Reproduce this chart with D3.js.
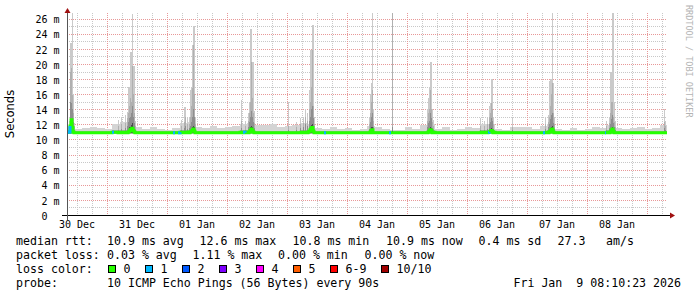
<!DOCTYPE html>
<html>
<head>
<meta charset="utf-8">
<script src="https://d3js.org/d3.v7.min.js"></script>
<style>
body{margin:0;background:#fff}
svg text{font-family:"DejaVu Sans Mono",monospace;white-space:pre}
</style>
</head>
<body>
<script>
// 10 days over 600 px -> one column = 1440 s = 0.4 h, hours counted from graph start
var start = new Date(2025, 11, 30, 8, 10, 23);
var end = new Date(2026, 0, 9, 8, 10, 23);
var colH = 0.4;
var binH = 3;

// background smoke, 3 h bins: top of outer smoke and median (ms)
var baseHi = [11.6,11.4,11.5,11.6,11.5,11.4,12.0,12.3,12.5,11.6,
              11.4,11.7,11.4,11.3,11.5,12.2,12.3,11.6,11.5,11.8,
              11.5,11.7,11.8,12.0,12.2,11.9,11.9,12.1,11.7,11.8,
              11.9,12.2,12.0,11.5,11.4,11.7,11.4,11.5,11.3,11.4,
              11.8,11.6,11.4,11.3,11.3,11.6,11.4,11.9,12.1,11.4,
              11.7,11.3,11.4,11.6,11.5,12.0,12.1,11.4,11.3,11.6,
              11.7,11.6,11.4,11.8,12.0,11.4,11.3,11.5,11.3,11.4,
              11.6,11.5,11.9,11.5,11.4,11.5,11.6,11.4,11.5,11.9];
var baseMed = [10.95,10.9,10.9,10.9,10.9,10.9,10.95,10.95,11.0,10.9,
               10.9,10.9,10.9,10.9,10.9,10.95,11.0,10.9,10.9,10.9,
               10.9,10.9,10.9,10.95,11.0,10.9,10.9,10.9,10.9,10.9,
               10.9,10.95,11.0,10.9,10.9,10.9,10.9,10.9,10.9,10.9,
               10.9,10.9,10.9,10.9,10.9,10.9,10.9,10.9,10.95,10.9,
               10.9,10.9,10.9,10.9,10.9,10.95,10.95,10.9,10.9,10.9,
               10.9,10.9,10.9,10.9,10.95,10.9,10.9,10.9,10.9,10.9,
               10.9,10.9,10.95,10.9,10.9,10.9,10.9,10.9,10.9,10.9];

// single columns with bursts: hour, max ping, 9th, 8th, 7th ping, median (ms)
var spikeHour = [0.8,1.2,1.6,2.0,2.4,2.8,
                 20.4,21.6,23.2,24.0,24.4,24.8,25.2,25.6,26.0,26.4,26.8,27.2,
                 45.6,46.8,47.2,48.0,48.8,49.2,49.6,50.0,50.4,50.8,51.2,
                 69.6,71.2,72.4,72.8,73.2,73.6,74.0,74.4,74.8,
                 88.4,91.6,93.2,94.4,95.2,96.0,96.8,97.2,97.6,98.0,98.4,98.8,
                 120.8,121.2,121.6,122.0,122.4,130.0,
                 144.0,144.4,144.8,145.2,145.6,146.0,146.4,
                 165.2,166.8,168.0,168.8,169.2,169.6,170.0,170.4,178.0,
                 191.2,192.4,192.8,193.2,193.6,194.0,194.4,194.8,
                 215.6,216.8,217.2,217.6,218.0,218.4,218.8,219.2,
                 238.8,239.2];
var spikeMax = [12.4,22.8,22.8,26.7,16.0,12.2,
                12.6,12.9,13.2,13.7,17.0,17.0,21.6,21.6,26.6,19.7,19.7,12.5,
                12.6,14.3,14.3,13.0,12.8,16.5,16.8,22.5,25.0,25.0,13.0,
                15.2,12.5,13.5,15.0,24.6,24.6,20.2,20.2,13.8,
                15.0,12.3,12.8,13.0,14.0,13.5,16.5,21.8,21.8,25.2,25.2,13.0,
                13.0,16.0,17.5,26.7,14.0,26.7,
                14.0,15.5,17.0,20.2,20.2,14.0,12.6,
                12.8,12.5,12.8,14.5,14.8,18.0,18.0,13.0,13.0,
                13.0,13.2,17.8,18.0,18.0,26.7,17.5,13.0,
                12.5,13.0,19.0,19.0,26.7,26.7,15.0,12.5,
                14.0,12.5];
var spikeP9 = [11.9,19.0,19.5,15.9,13.5,11.6,
               11.8,12.0,12.2,12.8,13.5,14.5,15.5,15.0,19.7,16.0,13.5,11.8,
               11.8,12.3,13.0,12.0,12.0,13.0,14.5,16.8,22.5,16.0,12.0,
               12.5,11.8,12.5,13.5,15.0,20.2,15.5,13.5,12.2,
               11.8,11.6,12.0,12.2,13.0,12.5,14.0,15.0,17.0,21.8,14.5,12.0,
               12.0,13.5,15.0,16.5,12.5,26.7,
               12.5,13.5,14.0,16.5,14.0,12.3,11.8,
               11.8,11.8,12.0,13.0,13.5,14.8,14.0,12.0,11.7,
               12.0,12.3,13.0,14.5,16.0,17.5,13.5,12.0,
               11.8,12.2,13.5,15.0,15.0,13.0,12.3,11.7,
               12.3,11.8];
var spikeP8 = [11.5,15.0,14.8,14.0,12.3,11.3,
               11.3,11.4,11.5,11.8,12.3,12.8,13.0,13.5,14.5,13.0,12.2,11.3,
               11.3,11.5,11.8,11.4,11.5,11.8,12.3,13.0,14.0,13.0,11.4,
               11.5,11.3,11.7,12.3,13.0,13.8,13.0,12.3,11.5,
               11.3,11.2,11.5,11.6,12.0,11.8,12.5,13.0,14.0,14.5,12.8,11.4,
               11.4,12.3,13.0,13.5,11.7,11.6,
               11.7,12.2,12.5,13.5,12.8,11.5,11.3,
               11.3,11.3,11.4,12.0,12.3,12.8,12.5,11.4,11.2,
               11.4,11.6,12.0,12.7,13.2,13.5,12.2,11.4,
               11.3,11.5,12.0,12.7,13.2,12.2,11.6,11.3,
               11.5,11.3];
var spikeP7 = [11.1,12.2,12.5,12.1,11.3,11.0,
               10.95,11.0,11.0,11.1,11.3,11.6,11.7,11.9,12.2,11.6,11.3,11.0,
               10.95,11.0,11.1,11.0,11.1,11.1,11.3,11.6,11.8,11.6,11.0,
               11.0,10.95,11.1,11.3,11.6,11.8,11.6,11.3,11.0,
               10.95,10.95,11.0,11.1,11.1,11.1,11.4,11.6,11.9,12.1,11.5,11.0,
               11.0,11.3,11.6,11.7,11.1,11.1,
               11.1,11.3,11.4,11.7,11.5,11.0,10.95,
               10.95,10.95,11.0,11.2,11.3,11.5,11.4,11.0,10.95,
               11.0,11.1,11.3,11.5,11.7,11.8,11.3,11.0,
               10.95,11.0,11.2,11.5,11.7,11.4,11.1,10.95,
               11.0,10.95];
var spikeMed = [11.0,11.8,12.6,11.6,11.0,10.9,
                10.9,10.9,10.9,10.9,11.0,11.1,11.3,11.4,11.5,11.2,11.0,10.9,
                10.9,10.9,10.9,10.9,10.9,11.0,11.1,11.2,11.4,11.1,10.9,
                10.9,10.9,10.9,11.0,11.2,11.4,11.2,11.0,10.9,
                10.9,10.9,10.9,10.9,10.9,10.9,11.1,11.3,11.5,11.6,11.1,10.9,
                10.9,11.0,11.2,11.3,10.9,10.9,
                10.9,11.0,11.1,11.3,11.2,10.9,10.9,
                10.9,10.9,10.9,11.0,11.1,11.2,11.1,10.9,10.9,
                10.9,10.9,11.0,11.1,11.3,11.4,11.0,10.9,
                10.9,10.9,11.0,11.2,11.4,11.1,10.9,10.9,
                10.9,10.9];

// columns with 1 of 10 pings lost
var lossHour = [0.4,18.0,42.4,44.4,70.4,102.8,128.8,168.4,190.4,215.2];
var lossCols = [2,2,2,2,2,2,2,1,2,1];

var yTicks = [0,2,4,6,8,10,12,14,16,18,20,22,24,26];
var lossLabels = ["0","1","2","3","4","5","6-9","10/10"];
var lossColors = ["#26ff00","#00b8ff","#0059ff","#7e00ff","#ff00ff","#ff5e00","#ff0000","#a10000"];

var W = 697, H = 297;
var svg = d3.select("body").append("svg").attr("width", W).attr("height", H);

var x = d3.scaleTime().domain([start, end]).range([67, 667]);
var y = d3.scaleLinear().domain([0, 26.75]).range([215, 13]);
function hDate(h){ return new Date(start.getTime() + h * 3600e3); }

// grid
var grid = svg.append("g");
d3.range(1, 27).forEach(function(v){
    grid.append("line").attr("x1", 67).attr("x2", 667)
        .attr("y1", Math.round(y(v)) + 0.5).attr("y2", Math.round(y(v)) + 0.5)
        .attr("stroke", v % 2 ? "#c8c8c8" : "#e89898").attr("stroke-dasharray", "1,1");
});
d3.timeHour.every(6).range(start, end).forEach(function(t){
    var major = t.getHours() === 0;
    var gx = Math.round(x(t)) + 0.5;
    grid.append("line").attr("x1", gx).attr("x2", gx).attr("y1", 13).attr("y2", 215)
        .attr("stroke", major ? "#e89898" : "#c8c8c8").attr("stroke-dasharray", "1,1");
});

// background smoke
var smoke = svg.append("g").attr("shape-rendering", "crispEdges");
baseHi.forEach(function(v, i){
    var x0 = x(hDate(i * binH)), x1 = x(hDate((i + 1) * binH));
    smoke.append("rect").attr("x", x0).attr("width", x1 - x0)
        .attr("y", y(v)).attr("height", y(10.7) - y(v)).attr("fill", "#d4d4d4");
    smoke.append("rect").attr("x", x0).attr("width", x1 - x0)
        .attr("y", y(baseMed[i] + 0.25)).attr("height", y(10.75) - y(baseMed[i] + 0.25)).attr("fill", "#a8a8a8");
});

// burst columns
var bands = [[spikeMax, 10.7, "#cacaca"], [spikeP9, 10.75, "#b0b0b0"], [spikeP8, 10.8, "#8e8e8e"], [spikeP7, 10.85, "#4a4a4a"]];
spikeHour.forEach(function(h, i){
    var x0 = x(hDate(h)), x1 = x(hDate(h + colH));
    bands.forEach(function(b){
        var v = b[0][i];
        smoke.append("rect").attr("x", x0).attr("width", x1 - x0)
            .attr("y", y(v)).attr("height", y(b[1]) - y(v)).attr("fill", b[2]);
    });
});

// median line, one value per column
var cols = d3.range(0, 600).map(function(c){
    return {h: c * colH, m: baseMed[Math.floor(c * colH / binH)]};
});
spikeHour.forEach(function(h, i){ cols[Math.round(h / colH)].m = spikeMed[i]; });
cols.push({h: 600 * colH, m: cols[599].m});
var medLine = d3.line().x(function(d){ return x(hDate(d.h)); }).y(function(d){ return y(d.m); })
    .curve(d3.curveStepAfter);
svg.append("path").attr("d", medLine(cols)).attr("fill", "none")
    .attr("stroke", lossColors[0]).attr("stroke-width", 3);
lossHour.forEach(function(h, i){
    var c0 = Math.round(h / colH);
    var seg = cols.slice(c0, c0 + lossCols[i] + 1);
    svg.append("path").attr("d", medLine(seg)).attr("fill", "none")
        .attr("stroke", lossColors[1]).attr("stroke-width", 3);
});

// axes
svg.append("line").attr("x1", 62).attr("x2", 670).attr("y1", 215.5).attr("y2", 215.5)
    .attr("stroke", "#000");
svg.append("line").attr("x1", 67.5).attr("x2", 67.5).attr("y1", 220).attr("y2", 12)
    .attr("stroke", "#555");
svg.append("path").attr("d", "M670,212.5L675,215.5L670,218.5Z").attr("fill", "#a01010");
svg.append("path").attr("d", "M64.5,13L67.5,8L70.5,13Z").attr("fill", "#a01010");

var yAxis = d3.axisLeft(y).tickValues(yTicks).tickSize(0).tickPadding(8)
    .tickFormat(function(v){ return v === 0 ? "0\u00a0\u00a0" : v + " m"; });
var ga = svg.append("g").attr("transform", "translate(67.5,0)").call(yAxis);
ga.select(".domain").remove();
ga.selectAll("text").attr("font-family", "DejaVu Sans Mono").attr("font-size", 10)
    .attr("dy", "0.42em").attr("fill", "#000");

var noons = d3.timeHour.range(start, end).filter(function(t){ return t.getHours() === 12; });
var xAxis = d3.axisBottom(x).tickValues(noons).tickSize(0).tickPadding(6)
    .tickFormat(d3.timeFormat("%d %b"));
var gx = svg.append("g").attr("transform", "translate(0,215)").call(xAxis);
gx.select(".domain").remove();
gx.selectAll("text").attr("font-family", "DejaVu Sans Mono").attr("font-size", 10).attr("fill", "#000");

// titles
svg.append("text").attr("transform", "translate(14,114) rotate(-90)").attr("text-anchor", "middle")
    .style("font-family", "'DejaVu Sans'").attr("font-size", 11.5).text("Seconds");
svg.append("text").attr("transform", "translate(686,5) rotate(90)")
    .attr("font-size", 8.5).attr("fill", "#b4b4b4").text("RRDTOOL / TOBI OETIKER");

// legend
var leg = svg.append("g").attr("font-size", 11.6);
function put(tx, ty, s){ leg.append("text").attr("x", tx).attr("y", ty).text(s); }
put(16, 245, "median rtt:");
put(107, 245, "10.9 ms avg");
put(199.5, 245, "12.6 ms max");
put(292.5, 245, "10.8 ms min");
put(386, 245, "10.9 ms now");
put(478.5, 245, "0.4 ms sd");
put(557.5, 245, "27.3");
put(606, 245, "am/s");
put(16, 259, "packet loss:");
put(107, 259, "0.03 % avg");
put(192.5, 259, "1.11 % max");
put(278, 259, "0.00 % min");
put(364.5, 259, "0.00 % now");
put(16, 273, "loss color:");
var sx = 108;
lossLabels.forEach(function(l, i){
    leg.append("rect").attr("x", sx + 0.5).attr("y", 265.5).attr("width", 7).attr("height", 7)
        .attr("fill", lossColors[i]).attr("stroke", "#000");
    put(sx + 15.5, 273, l);
    sx += 16 + 7 * l.length + 14;
});
put(16, 287, "probe:");
put(107, 287, "10 ICMP Echo Pings (56 Bytes) every 90s");
leg.append("text").attr("x", 681).attr("y", 287).attr("text-anchor", "end")
    .text(d3.timeFormat("%a %b %e %H:%M:%S %Y")(end));
</script>
</body>
</html>
